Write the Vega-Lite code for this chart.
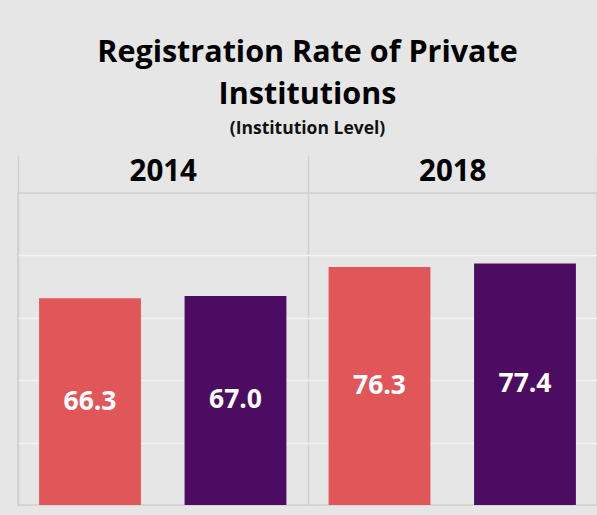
{
  "$schema": "https://vega.github.io/schema/vega-lite/v6.json",
  "width": 579,
  "height": 312,
  "autosize": {"type": "none"},
  "padding": {"left": 18, "top": 193, "right": 0, "bottom": 10},
  "background": "#e6e6e6",
  "config": {
    "view": {"stroke": "#d0d0d0", "strokeWidth": 1.5},
    "font": "Open Sans"
  },
  "title": {
    "text": ["Registration Rate of Private", "Institutions"],
    "subtitle": "(Institution Level)",
    "anchor": "middle",
    "font": "Open Sans",
    "fontSize": 30.5,
    "fontWeight": "bold",
    "color": "#000000",
    "lineHeight": 42,
    "subtitleFont": "Open Sans",
    "subtitleFontSize": 17.5,
    "subtitleFontWeight": "bold",
    "subtitleColor": "#111111",
    "subtitlePadding": 9,
    "offset": 17
  },
  "data": {
    "values": [
      {"year": "2014", "group": "A", "value": 66.3},
      {"year": "2014", "group": "B", "value": 67.0},
      {"year": "2018", "group": "A", "value": 76.3},
      {"year": "2018", "group": "B", "value": 77.4}
    ]
  },
  "encoding": {
    "x": {
      "field": "year",
      "type": "nominal",
      "scale": {"paddingInner": 0, "paddingOuter": 0},
      "axis": {
        "orient": "top",
        "title": null,
        "tickBand": "extent",
        "tickSize": 38,
        "tickWidth": 1.5,
        "tickColor": "#d0d0d0",
        "domain": false,
        "grid": true,
        "gridColor": "#d0d0d0",
        "gridWidth": 1.5,
        "labelAngle": 0,
        "labelPadding": -31,
        "labelFontSize": 29.5,
        "labelFontWeight": "bold",
        "labelColor": "#000000",
        "labelFont": "Open Sans"
      }
    },
    "xOffset": {
      "field": "group",
      "type": "nominal",
      "scale": {"paddingInner": 0.3, "paddingOuter": 0.145}
    }
  },
  "layer": [
    {
      "mark": {"type": "bar"},
      "encoding": {
        "y": {
          "field": "value",
          "type": "quantitative",
          "scale": {"domain": [0, 100]},
          "axis": {
            "title": null,
            "labels": false,
            "ticks": false,
            "domain": false,
            "values": [20, 40, 60, 80],
            "gridColor": "#f3f3f3",
            "gridWidth": 1.5
          }
        },
        "color": {
          "field": "group",
          "type": "nominal",
          "scale": {"domain": ["A", "B"], "range": ["#e15759", "#4b0c61"]},
          "legend": null
        }
      }
    },
    {
      "mark": {
        "type": "text",
        "color": "#ffffff",
        "fontSize": 26.5,
        "fontWeight": "bold",
        "font": "Open Sans",
        "baseline": "middle",
        "align": "center"
      },
      "encoding": {
        "y": {
          "field": "value",
          "type": "quantitative",
          "scale": {"domain": [0, 200]},
          "axis": null
        },
        "text": {"field": "value", "type": "quantitative", "format": ".1f"}
      }
    }
  ],
  "resolve": {"scale": {"y": "independent"}}
}
